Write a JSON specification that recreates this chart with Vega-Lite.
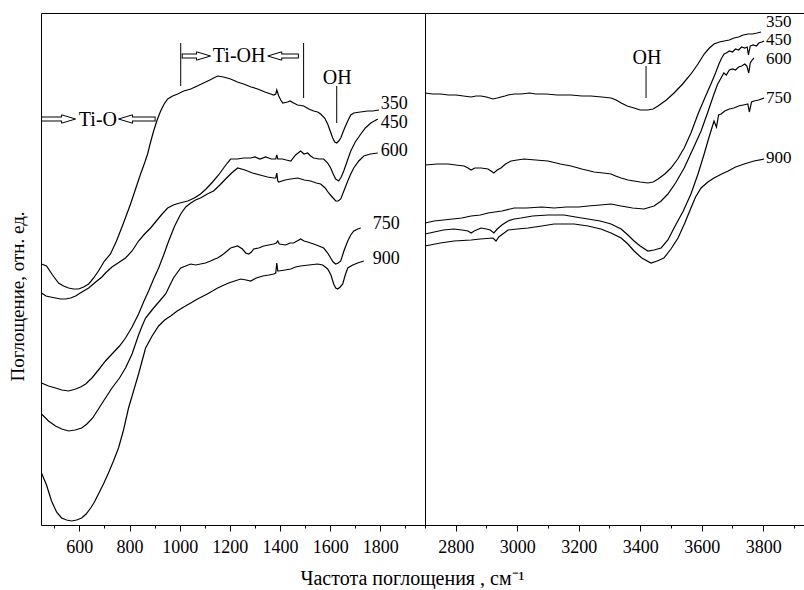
{
  "$schema": "https://vega.github.io/schema/vega-lite/v6.json",
  "background": "white",
  "padding": {"left": 7, "top": 12, "right": 0, "bottom": 0},
  "bounds": "flush",
  "spacing": 0,
  "config": {
    "font": "Liberation Serif",
    "view": {"stroke": "black", "strokeWidth": 1},
    "axis": {"grid": false, "domain": false, "tickColor": "black", "labelColor": "black", "titleColor": "black", "labelFont": "Liberation Serif", "titleFont": "Liberation Serif", "labelFontSize": 18, "titleFontSize": 19, "titleFontWeight": "normal"},
    "text": {"font": "Liberation Serif", "color": "black"}
  },
  "datasets": {
    "left": [
      {"s":"350","x":449,"y":261},{"s":"350","x":469,"y":259},{"s":"350","x":493,"y":250},{"s":"350","x":517,"y":242},{"s":"350","x":537,"y":239},{"s":"350","x":557,"y":237},{"s":"350","x":577,"y":236},{"s":"350","x":597,"y":236},{"s":"350","x":617,"y":238},{"s":"350","x":637,"y":241},{"s":"350","x":657,"y":247},{"s":"350","x":676,"y":254},{"s":"350","x":700,"y":264},{"s":"350","x":724,"y":271},{"s":"350","x":748,"y":284},{"s":"350","x":776,"y":302},{"s":"350","x":804,"y":321},{"s":"350","x":824,"y":336},{"s":"350","x":844,"y":351},{"s":"350","x":860,"y":362},{"s":"350","x":872,"y":371},{"s":"350","x":884,"y":383},{"s":"350","x":896,"y":394},{"s":"350","x":910,"y":405},{"s":"350","x":924,"y":414},{"s":"350","x":938,"y":421},{"s":"350","x":952,"y":426},{"s":"350","x":972,"y":429},{"s":"350","x":992,"y":431},{"s":"350","x":1016,"y":434},{"s":"350","x":1044,"y":436},{"s":"350","x":1070,"y":439},{"s":"350","x":1095,"y":442},{"s":"350","x":1120,"y":445},{"s":"350","x":1151,"y":449},{"s":"350","x":1175,"y":448},{"s":"350","x":1203,"y":446},{"s":"350","x":1230,"y":443},{"s":"350","x":1255,"y":441},{"s":"350","x":1285,"y":438},{"s":"350","x":1311,"y":436},{"s":"350","x":1340,"y":433},{"s":"350","x":1363,"y":431},{"s":"350","x":1375,"y":430},{"s":"350","x":1383,"y":431},{"s":"350","x":1387,"y":435},{"s":"350","x":1391,"y":432},{"s":"350","x":1395,"y":429},{"s":"350","x":1403,"y":425},{"s":"350","x":1411,"y":422},{"s":"350","x":1430,"y":423},{"s":"350","x":1440,"y":424},{"s":"350","x":1454,"y":422},{"s":"350","x":1470,"y":420},{"s":"350","x":1494,"y":419},{"s":"350","x":1515,"y":416},{"s":"350","x":1534,"y":414},{"s":"350","x":1550,"y":413},{"s":"350","x":1562,"y":411},{"s":"350","x":1578,"y":407},{"s":"350","x":1590,"y":401},{"s":"350","x":1600,"y":394},{"s":"350","x":1610,"y":387},{"s":"350","x":1618,"y":383},{"s":"350","x":1626,"y":382},{"s":"350","x":1634,"y":384},{"s":"350","x":1642,"y":387},{"s":"350","x":1656,"y":396},{"s":"350","x":1670,"y":404},{"s":"350","x":1682,"y":410},{"s":"350","x":1694,"y":412},{"s":"350","x":1720,"y":413},{"s":"350","x":1750,"y":414},{"s":"350","x":1770,"y":414},{"s":"350","x":1794,"y":415},
      {"s":"450","x":449,"y":232},{"s":"450","x":467,"y":229},{"s":"450","x":485,"y":228},{"s":"450","x":505,"y":227},{"s":"450","x":525,"y":226},{"s":"450","x":545,"y":226},{"s":"450","x":565,"y":227},{"s":"450","x":585,"y":229},{"s":"450","x":610,"y":233},{"s":"450","x":637,"y":237},{"s":"450","x":665,"y":243},{"s":"450","x":690,"y":248},{"s":"450","x":704,"y":252},{"s":"450","x":730,"y":258},{"s":"450","x":760,"y":263},{"s":"450","x":784,"y":267},{"s":"450","x":810,"y":274},{"s":"450","x":836,"y":284},{"s":"450","x":860,"y":291},{"s":"450","x":884,"y":297},{"s":"450","x":910,"y":305},{"s":"450","x":930,"y":311},{"s":"450","x":952,"y":317},{"s":"450","x":975,"y":320},{"s":"450","x":1000,"y":322},{"s":"450","x":1032,"y":324},{"s":"450","x":1058,"y":327},{"s":"450","x":1083,"y":331},{"s":"450","x":1105,"y":336},{"s":"450","x":1131,"y":343},{"s":"450","x":1155,"y":350},{"s":"450","x":1175,"y":357},{"s":"450","x":1190,"y":362},{"s":"450","x":1203,"y":366},{"s":"450","x":1230,"y":366},{"s":"450","x":1255,"y":367},{"s":"450","x":1283,"y":367},{"s":"450","x":1300,"y":368},{"s":"450","x":1320,"y":366},{"s":"450","x":1343,"y":368},{"s":"450","x":1365,"y":366},{"s":"450","x":1383,"y":366},{"s":"450","x":1387,"y":370},{"s":"450","x":1391,"y":366},{"s":"450","x":1410,"y":366},{"s":"450","x":1425,"y":365},{"s":"450","x":1443,"y":364},{"s":"450","x":1462,"y":370},{"s":"450","x":1482,"y":374},{"s":"450","x":1496,"y":371},{"s":"450","x":1510,"y":372},{"s":"450","x":1522,"y":369},{"s":"450","x":1534,"y":367},{"s":"450","x":1555,"y":366},{"s":"450","x":1574,"y":366},{"s":"450","x":1590,"y":362},{"s":"450","x":1602,"y":357},{"s":"450","x":1612,"y":351},{"s":"450","x":1622,"y":346},{"s":"450","x":1634,"y":344},{"s":"450","x":1644,"y":348},{"s":"450","x":1654,"y":354},{"s":"450","x":1668,"y":364},{"s":"450","x":1682,"y":374},{"s":"450","x":1700,"y":383},{"s":"450","x":1722,"y":391},{"s":"450","x":1740,"y":397},{"s":"450","x":1762,"y":402},{"s":"450","x":1790,"y":406},
      {"s":"600","x":449,"y":142},{"s":"600","x":477,"y":139},{"s":"600","x":505,"y":137},{"s":"600","x":530,"y":135},{"s":"600","x":557,"y":134},{"s":"600","x":585,"y":136},{"s":"600","x":605,"y":138},{"s":"600","x":625,"y":141},{"s":"600","x":650,"y":147},{"s":"600","x":676,"y":155},{"s":"600","x":704,"y":164},{"s":"600","x":730,"y":171},{"s":"600","x":760,"y":179},{"s":"600","x":784,"y":187},{"s":"600","x":810,"y":198},{"s":"600","x":836,"y":211},{"s":"600","x":856,"y":223},{"s":"600","x":876,"y":234},{"s":"600","x":896,"y":246},{"s":"600","x":916,"y":257},{"s":"600","x":936,"y":270},{"s":"600","x":956,"y":284},{"s":"600","x":980,"y":299},{"s":"600","x":1004,"y":311},{"s":"600","x":1024,"y":318},{"s":"600","x":1044,"y":322},{"s":"600","x":1063,"y":325},{"s":"600","x":1083,"y":327},{"s":"600","x":1110,"y":331},{"s":"600","x":1135,"y":334},{"s":"600","x":1160,"y":340},{"s":"600","x":1183,"y":346},{"s":"600","x":1207,"y":352},{"s":"600","x":1231,"y":357},{"s":"600","x":1260,"y":355},{"s":"600","x":1290,"y":352},{"s":"600","x":1320,"y":350},{"s":"600","x":1350,"y":348},{"s":"600","x":1375,"y":347},{"s":"600","x":1383,"y":347},{"s":"600","x":1387,"y":352},{"s":"600","x":1391,"y":344},{"s":"600","x":1395,"y":343},{"s":"600","x":1420,"y":345},{"s":"600","x":1443,"y":346},{"s":"600","x":1471,"y":347},{"s":"600","x":1497,"y":345},{"s":"600","x":1522,"y":344},{"s":"600","x":1545,"y":342},{"s":"600","x":1562,"y":341},{"s":"600","x":1580,"y":337},{"s":"600","x":1594,"y":332},{"s":"600","x":1608,"y":328},{"s":"600","x":1622,"y":324},{"s":"600","x":1632,"y":324},{"s":"600","x":1642,"y":326},{"s":"600","x":1656,"y":335},{"s":"600","x":1670,"y":344},{"s":"600","x":1682,"y":351},{"s":"600","x":1694,"y":357},{"s":"600","x":1714,"y":364},{"s":"600","x":1734,"y":369},{"s":"600","x":1760,"y":371},{"s":"600","x":1790,"y":372},
      {"s":"750","x":449,"y":111},{"s":"750","x":477,"y":104},{"s":"750","x":505,"y":99},{"s":"750","x":530,"y":96},{"s":"750","x":557,"y":94},{"s":"750","x":583,"y":95},{"s":"750","x":609,"y":97},{"s":"750","x":630,"y":101},{"s":"750","x":653,"y":107},{"s":"750","x":676,"y":116},{"s":"750","x":704,"y":127},{"s":"750","x":730,"y":137},{"s":"750","x":760,"y":147},{"s":"750","x":784,"y":157},{"s":"750","x":810,"y":171},{"s":"750","x":836,"y":190},{"s":"750","x":850,"y":199},{"s":"750","x":864,"y":207},{"s":"750","x":880,"y":212},{"s":"750","x":896,"y":217},{"s":"750","x":920,"y":224},{"s":"750","x":944,"y":231},{"s":"750","x":975,"y":247},{"s":"750","x":1004,"y":257},{"s":"750","x":1024,"y":259},{"s":"750","x":1044,"y":261},{"s":"750","x":1064,"y":260},{"s":"750","x":1083,"y":261},{"s":"750","x":1103,"y":262},{"s":"750","x":1123,"y":264},{"s":"750","x":1140,"y":266},{"s":"750","x":1151,"y":267},{"s":"750","x":1175,"y":271},{"s":"750","x":1203,"y":277},{"s":"750","x":1231,"y":279},{"s":"750","x":1250,"y":276},{"s":"750","x":1263,"y":272},{"s":"750","x":1275,"y":271},{"s":"750","x":1286,"y":273},{"s":"750","x":1295,"y":276},{"s":"750","x":1315,"y":277},{"s":"750","x":1335,"y":279},{"s":"750","x":1355,"y":280},{"s":"750","x":1375,"y":281},{"s":"750","x":1385,"y":282},{"s":"750","x":1391,"y":284},{"s":"750","x":1397,"y":281},{"s":"750","x":1423,"y":280},{"s":"750","x":1440,"y":282},{"s":"750","x":1454,"y":282},{"s":"750","x":1468,"y":284},{"s":"750","x":1482,"y":286},{"s":"750","x":1496,"y":284},{"s":"750","x":1510,"y":283},{"s":"750","x":1534,"y":281},{"s":"750","x":1555,"y":279},{"s":"750","x":1574,"y":277},{"s":"750","x":1590,"y":272},{"s":"750","x":1602,"y":267},{"s":"750","x":1612,"y":263},{"s":"750","x":1622,"y":261},{"s":"750","x":1632,"y":262},{"s":"750","x":1642,"y":264},{"s":"750","x":1656,"y":275},{"s":"750","x":1670,"y":284},{"s":"750","x":1682,"y":290},{"s":"750","x":1694,"y":294},{"s":"750","x":1710,"y":296},{"s":"750","x":1722,"y":297},
      {"s":"900","x":449,"y":52},{"s":"900","x":459,"y":46},{"s":"900","x":469,"y":40},{"s":"900","x":479,"y":32},{"s":"900","x":489,"y":24},{"s":"900","x":509,"y":13},{"s":"900","x":529,"y":7},{"s":"900","x":549,"y":5},{"s":"900","x":569,"y":4},{"s":"900","x":589,"y":5},{"s":"900","x":609,"y":7},{"s":"900","x":627,"y":11},{"s":"900","x":645,"y":17},{"s":"900","x":660,"y":23},{"s":"900","x":676,"y":31},{"s":"900","x":696,"y":41},{"s":"900","x":716,"y":52},{"s":"900","x":736,"y":64},{"s":"900","x":756,"y":77},{"s":"900","x":776,"y":95},{"s":"900","x":796,"y":117},{"s":"900","x":816,"y":134},{"s":"900","x":836,"y":151},{"s":"900","x":850,"y":164},{"s":"900","x":864,"y":177},{"s":"900","x":890,"y":189},{"s":"900","x":916,"y":199},{"s":"900","x":940,"y":205},{"s":"900","x":964,"y":209},{"s":"900","x":990,"y":214},{"s":"900","x":1016,"y":218},{"s":"900","x":1044,"y":222},{"s":"900","x":1071,"y":226},{"s":"900","x":1110,"y":231},{"s":"900","x":1151,"y":237},{"s":"900","x":1195,"y":242},{"s":"900","x":1243,"y":246},{"s":"900","x":1265,"y":245},{"s":"900","x":1283,"y":244},{"s":"900","x":1305,"y":247},{"s":"900","x":1331,"y":249},{"s":"900","x":1355,"y":250},{"s":"900","x":1375,"y":251},{"s":"900","x":1383,"y":252},{"s":"900","x":1387,"y":262},{"s":"900","x":1391,"y":254},{"s":"900","x":1395,"y":254},{"s":"900","x":1420,"y":255},{"s":"900","x":1443,"y":256},{"s":"900","x":1462,"y":258},{"s":"900","x":1482,"y":259},{"s":"900","x":1515,"y":260},{"s":"900","x":1550,"y":261},{"s":"900","x":1570,"y":260},{"s":"900","x":1590,"y":256},{"s":"900","x":1603,"y":250},{"s":"900","x":1614,"y":241},{"s":"900","x":1622,"y":237},{"s":"900","x":1630,"y":236},{"s":"900","x":1640,"y":238},{"s":"900","x":1650,"y":241},{"s":"900","x":1660,"y":250},{"s":"900","x":1670,"y":257},{"s":"900","x":1690,"y":260},{"s":"900","x":1710,"y":262},{"s":"900","x":1734,"y":264}
    ],
    "right": [
      {"s":"350","x":2700,"y":432},{"s":"350","x":2725,"y":431},{"s":"350","x":2752,"y":431},{"s":"350","x":2775,"y":430},{"s":"350","x":2801,"y":430},{"s":"350","x":2825,"y":429},{"s":"350","x":2850,"y":428},{"s":"350","x":2866,"y":429},{"s":"350","x":2882,"y":429},{"s":"350","x":2900,"y":428},{"s":"350","x":2921,"y":426},{"s":"350","x":2935,"y":427},{"s":"350","x":2947,"y":428},{"s":"350","x":2960,"y":429},{"s":"350","x":2970,"y":430},{"s":"350","x":2990,"y":431},{"s":"350","x":3012,"y":431},{"s":"350","x":3040,"y":432},{"s":"350","x":3060,"y":431},{"s":"350","x":3094,"y":431},{"s":"350","x":3130,"y":430},{"s":"350","x":3175,"y":430},{"s":"350","x":3210,"y":429},{"s":"350","x":3240,"y":429},{"s":"350","x":3275,"y":428},{"s":"350","x":3305,"y":427},{"s":"350","x":3322,"y":425},{"s":"350","x":3338,"y":422},{"s":"350","x":3358,"y":419},{"s":"350","x":3380,"y":417},{"s":"350","x":3400,"y":415},{"s":"350","x":3425,"y":415},{"s":"350","x":3442,"y":416},{"s":"350","x":3458,"y":419},{"s":"350","x":3485,"y":425},{"s":"350","x":3510,"y":432},{"s":"350","x":3538,"y":441},{"s":"350","x":3565,"y":451},{"s":"350","x":3588,"y":461},{"s":"350","x":3608,"y":471},{"s":"350","x":3625,"y":477},{"s":"350","x":3640,"y":481},{"s":"350","x":3657,"y":483},{"s":"350","x":3673,"y":484},{"s":"350","x":3690,"y":485},{"s":"350","x":3705,"y":487},{"s":"350","x":3720,"y":488},{"s":"350","x":3735,"y":490},{"s":"350","x":3751,"y":491},{"s":"350","x":3765,"y":491},{"s":"350","x":3780,"y":492},{"s":"350","x":3793,"y":493},
      {"s":"450","x":2700,"y":360},{"s":"450","x":2740,"y":361},{"s":"450","x":2775,"y":361},{"s":"450","x":2800,"y":360},{"s":"450","x":2827,"y":359},{"s":"450","x":2840,"y":357},{"s":"450","x":2850,"y":355},{"s":"450","x":2862,"y":357},{"s":"450","x":2882,"y":357},{"s":"450","x":2905,"y":356},{"s":"450","x":2915,"y":354},{"s":"450","x":2924,"y":352},{"s":"450","x":2935,"y":355},{"s":"450","x":2947,"y":357},{"s":"450","x":2962,"y":361},{"s":"450","x":2980,"y":364},{"s":"450","x":3000,"y":365},{"s":"450","x":3022,"y":366},{"s":"450","x":3060,"y":365},{"s":"450","x":3100,"y":364},{"s":"450","x":3140,"y":361},{"s":"450","x":3175,"y":359},{"s":"450","x":3210,"y":356},{"s":"450","x":3250,"y":353},{"s":"450","x":3280,"y":352},{"s":"450","x":3305,"y":351},{"s":"450","x":3320,"y":349},{"s":"450","x":3338,"y":347},{"s":"450","x":3360,"y":345},{"s":"450","x":3380,"y":344},{"s":"450","x":3400,"y":343},{"s":"450","x":3425,"y":342},{"s":"450","x":3442,"y":343},{"s":"450","x":3458,"y":346},{"s":"450","x":3480,"y":351},{"s":"450","x":3500,"y":357},{"s":"450","x":3522,"y":366},{"s":"450","x":3543,"y":377},{"s":"450","x":3565,"y":392},{"s":"450","x":3588,"y":411},{"s":"450","x":3610,"y":427},{"s":"450","x":3630,"y":441},{"s":"450","x":3645,"y":452},{"s":"450","x":3656,"y":461},{"s":"450","x":3665,"y":467},{"s":"450","x":3673,"y":471},{"s":"450","x":3680,"y":472},{"s":"450","x":3690,"y":474},{"s":"450","x":3700,"y":473},{"s":"450","x":3710,"y":476},{"s":"450","x":3720,"y":475},{"s":"450","x":3730,"y":478},{"s":"450","x":3740,"y":477},{"s":"450","x":3748,"y":478},{"s":"450","x":3752,"y":470},{"s":"450","x":3758,"y":479},{"s":"450","x":3768,"y":480},{"s":"450","x":3778,"y":479},{"s":"450","x":3786,"y":482},{"s":"450","x":3795,"y":483},{"s":"450","x":3803,"y":484},
      {"s":"600","x":2700,"y":302},{"s":"600","x":2730,"y":304},{"s":"600","x":2760,"y":305},{"s":"600","x":2790,"y":306},{"s":"600","x":2820,"y":307},{"s":"600","x":2850,"y":309},{"s":"600","x":2880,"y":310},{"s":"600","x":2905,"y":312},{"s":"600","x":2950,"y":314},{"s":"600","x":2990,"y":317},{"s":"600","x":3030,"y":317},{"s":"600","x":3080,"y":318},{"s":"600","x":3120,"y":317},{"s":"600","x":3160,"y":318},{"s":"600","x":3200,"y":318},{"s":"600","x":3230,"y":319},{"s":"600","x":3270,"y":320},{"s":"600","x":3305,"y":321},{"s":"600","x":3338,"y":319},{"s":"600","x":3375,"y":317},{"s":"600","x":3412,"y":316},{"s":"600","x":3445,"y":319},{"s":"600","x":3468,"y":324},{"s":"600","x":3490,"y":331},{"s":"600","x":3515,"y":342},{"s":"600","x":3543,"y":357},{"s":"600","x":3570,"y":375},{"s":"600","x":3598,"y":394},{"s":"600","x":3620,"y":413},{"s":"600","x":3640,"y":431},{"s":"600","x":3652,"y":441},{"s":"600","x":3663,"y":447},{"s":"600","x":3672,"y":452},{"s":"600","x":3680,"y":450},{"s":"600","x":3690,"y":455},{"s":"600","x":3700,"y":456},{"s":"600","x":3710,"y":455},{"s":"600","x":3720,"y":458},{"s":"600","x":3730,"y":459},{"s":"600","x":3740,"y":461},{"s":"600","x":3747,"y":459},{"s":"600","x":3753,"y":452},{"s":"600","x":3758,"y":462},{"s":"600","x":3764,"y":465},{"s":"600","x":3770,"y":467},
      {"s":"750","x":2700,"y":291},{"s":"750","x":2730,"y":293},{"s":"750","x":2760,"y":295},{"s":"750","x":2794,"y":296},{"s":"750","x":2820,"y":295},{"s":"750","x":2840,"y":294},{"s":"750","x":2850,"y":292},{"s":"750","x":2860,"y":294},{"s":"750","x":2882,"y":297},{"s":"750","x":2900,"y":296},{"s":"750","x":2912,"y":295},{"s":"750","x":2924,"y":292},{"s":"750","x":2935,"y":296},{"s":"750","x":2950,"y":300},{"s":"750","x":2970,"y":304},{"s":"750","x":2990,"y":306},{"s":"750","x":3012,"y":307},{"s":"750","x":3050,"y":309},{"s":"750","x":3100,"y":310},{"s":"750","x":3152,"y":310},{"s":"750","x":3190,"y":308},{"s":"750","x":3230,"y":306},{"s":"750","x":3270,"y":304},{"s":"750","x":3305,"y":301},{"s":"750","x":3338,"y":296},{"s":"750","x":3360,"y":290},{"s":"750","x":3380,"y":284},{"s":"750","x":3400,"y":279},{"s":"750","x":3425,"y":274},{"s":"750","x":3445,"y":275},{"s":"750","x":3468,"y":277},{"s":"750","x":3490,"y":285},{"s":"750","x":3510,"y":297},{"s":"750","x":3540,"y":314},{"s":"750","x":3565,"y":331},{"s":"750","x":3588,"y":351},{"s":"750","x":3608,"y":371},{"s":"750","x":3625,"y":389},{"s":"750","x":3640,"y":404},{"s":"750","x":3648,"y":398},{"s":"750","x":3655,"y":410},{"s":"750","x":3663,"y":411},{"s":"750","x":3675,"y":414},{"s":"750","x":3690,"y":416},{"s":"750","x":3705,"y":417},{"s":"750","x":3720,"y":419},{"s":"750","x":3735,"y":420},{"s":"750","x":3750,"y":421},{"s":"750","x":3755,"y":413},{"s":"750","x":3762,"y":423},{"s":"750","x":3770,"y":424},{"s":"750","x":3785,"y":425},{"s":"750","x":3803,"y":427},
      {"s":"900","x":2700,"y":279},{"s":"900","x":2750,"y":282},{"s":"900","x":2794,"y":284},{"s":"900","x":2850,"y":285},{"s":"900","x":2880,"y":286},{"s":"900","x":2921,"y":287},{"s":"900","x":2931,"y":284},{"s":"900","x":2940,"y":288},{"s":"900","x":2970,"y":295},{"s":"900","x":3000,"y":296},{"s":"900","x":3035,"y":297},{"s":"900","x":3080,"y":299},{"s":"900","x":3120,"y":301},{"s":"900","x":3150,"y":301},{"s":"900","x":3185,"y":301},{"s":"900","x":3230,"y":299},{"s":"900","x":3272,"y":296},{"s":"900","x":3305,"y":292},{"s":"900","x":3338,"y":287},{"s":"900","x":3360,"y":281},{"s":"900","x":3380,"y":274},{"s":"900","x":3405,"y":267},{"s":"900","x":3435,"y":262},{"s":"900","x":3455,"y":264},{"s":"900","x":3477,"y":267},{"s":"900","x":3500,"y":276},{"s":"900","x":3523,"y":287},{"s":"900","x":3545,"y":302},{"s":"900","x":3565,"y":317},{"s":"900","x":3580,"y":328},{"s":"900","x":3598,"y":337},{"s":"900","x":3620,"y":343},{"s":"900","x":3640,"y":347},{"s":"900","x":3665,"y":351},{"s":"900","x":3686,"y":354},{"s":"900","x":3710,"y":358},{"s":"900","x":3738,"y":361},{"s":"900","x":3770,"y":364},{"s":"900","x":3803,"y":366}
    ],
    "leftLabels": [
      {"t":"350","x":1802,"y":421},{"t":"450","x":1802,"y":402},{"t":"600","x":1802,"y":374},{"t":"750","x":1770,"y":301},{"t":"900","x":1770,"y":266}
    ],
    "rightLabels": [
      {"t":"350","x":3809,"y":503},{"t":"450","x":3809,"y":485},{"t":"600","x":3809,"y":466},{"t":"750","x":3809,"y":427},{"t":"900","x":3809,"y":367}
    ],
    "leftMarks": [
      {"x":1004,"y":439,"y2":482},{"x":1494,"y":427,"y2":482},{"x":1626,"y":402,"y2":439}
    ],
    "leftNotes": [
      {"t":"Ti-O","x":674,"y":405},{"t":"Ti-OH","x":1237,"y":469},{"t":"OH","x":1628,"y":447}
    ],
    "arrows": [
      {"x":447,"x2":531,"xw":451,"xw2":537,"hx":557,"y":406,"shape":"M -1 -0.6 L 1 0 L -1 0.6 Z"},
      {"x":810,"x2":904,"xw":804,"xw2":900,"hx":784,"y":406,"shape":"M 1 -0.6 L -1 0 L 1 0.6 Z"},
      {"x":1008,"x2":1069,"xw":1012,"xw2":1075,"hx":1095,"y":469,"shape":"M -1 -0.6 L 1 0 L -1 0.6 Z"},
      {"x":1405,"x2":1475,"xw":1399,"xw2":1471,"hx":1379,"y":469,"shape":"M 1 -0.6 L -1 0 L 1 0.6 Z"}
    ],
    "rightMarks": [{"x":3419,"y":427,"y2":459}],
    "rightNotes": [{"t":"OH","x":3422,"y":467}]
  },
  "hconcat": [
    {
      "width": 384,
      "height": 512,
      "resolve": {"axis": {"x": "independent"}},
      "layer": [
        {
          "data": {"name": "left"},
          "mark": {"type": "line", "color": "black", "strokeWidth": 1.2},
          "encoding": {
            "x": {"field": "x", "type": "quantitative", "scale": {"domain": [447, 1978], "nice": false, "zero": false},
              "axis": {"orient": "bottom", "values": [600,800,1000,1200,1400,1600,1800], "format": "d", "tickSize": 6,
                "labelPadding": 7, "labelFlush": false, "labelOverlap": false,
                "title": "Частота поглощения , см⁻¹", "titleFontSize": 20, "titleX": 371, "titleY": 59, "titleAlign": "center", "titleBaseline": "alphabetic"}},
            "y": {"field": "y", "type": "quantitative", "scale": {"domain": [0, 512], "nice": false, "zero": false},
              "axis": {"labels": false, "ticks": false, "domain": false, "title": "Поглощение, отн. ед.", "titleX": -14, "titleY": 283, "titleAlign": "center", "titleBaseline": "bottom", "titleAngle": 270}},
            "detail": {"field": "s", "type": "nominal"}
          }
        },
        {
          "data": {"name": "leftMarks"},
          "mark": {"type": "rule", "color": "black", "strokeWidth": 1},
          "encoding": {
            "x": {"field": "x", "type": "quantitative",
              "axis": {"orient": "bottom", "values": [500,700,900,1100,1300,1500,1700,1900], "tickSize": 3, "labels": false, "domain": false, "title": null}},
            "y": {"field": "y", "type": "quantitative"},
            "y2": {"field": "y2"}
          }
        },
        {
          "data": {"name": "arrows"},
          "mark": {"type": "rule", "color": "black", "strokeWidth": 5, "strokeCap": "butt"},
          "encoding": {
            "x": {"field": "x", "type": "quantitative", "axis": null},
            "x2": {"field": "x2"},
            "y": {"field": "y", "type": "quantitative"}
          }
        },
        {
          "data": {"name": "arrows"},
          "mark": {"type": "point", "filled": true, "fill": "white", "stroke": "black", "strokeWidth": 1, "size": 196, "opacity": 1},
          "encoding": {
            "x": {"field": "hx", "type": "quantitative", "axis": null},
            "y": {"field": "y", "type": "quantitative"},
            "shape": {"field": "shape", "type": "nominal", "scale": null}
          }
        },
        {
          "data": {"name": "arrows"},
          "mark": {"type": "rule", "color": "white", "strokeWidth": 3, "strokeCap": "butt"},
          "encoding": {
            "x": {"field": "xw", "type": "quantitative", "axis": null},
            "x2": {"field": "xw2"},
            "y": {"field": "y", "type": "quantitative"}
          }
        },
        {
          "data": {"name": "leftNotes"},
          "mark": {"type": "text", "fontSize": 20, "align": "center", "baseline": "middle", "color": "black"},
          "encoding": {
            "x": {"field": "x", "type": "quantitative", "axis": null},
            "y": {"field": "y", "type": "quantitative"},
            "text": {"field": "t"}
          }
        },
        {
          "data": {"name": "leftLabels"},
          "mark": {"type": "text", "fontSize": 18, "align": "left", "baseline": "middle", "color": "black"},
          "encoding": {
            "x": {"field": "x", "type": "quantitative", "axis": null},
            "y": {"field": "y", "type": "quantitative"},
            "text": {"field": "t"}
          }
        }
      ]
    },
    {
      "width": 380,
      "height": 512,
      "resolve": {"axis": {"x": "independent"}},
      "layer": [
        {
          "data": {"name": "right"},
          "mark": {"type": "line", "color": "black", "strokeWidth": 1.2},
          "encoding": {
            "x": {"field": "x", "type": "quantitative", "scale": {"domain": [2700, 3936], "nice": false, "zero": false},
              "axis": {"orient": "bottom", "values": [2800,3000,3200,3400,3600,3800], "format": "d", "tickSize": 6,
                "labelPadding": 7, "labelFlush": false, "labelOverlap": false, "title": null}},
            "y": {"field": "y", "type": "quantitative", "scale": {"domain": [0, 512], "nice": false, "zero": false}, "axis": null},
            "detail": {"field": "s", "type": "nominal"}
          }
        },
        {
          "data": {"name": "rightMarks"},
          "mark": {"type": "rule", "color": "black", "strokeWidth": 1},
          "encoding": {
            "x": {"field": "x", "type": "quantitative",
              "axis": {"orient": "bottom", "values": [2700,2900,3100,3300,3500,3700,3900], "tickSize": 3, "labels": false, "domain": false, "title": null}},
            "y": {"field": "y", "type": "quantitative", "axis": null},
            "y2": {"field": "y2"}
          }
        },
        {
          "data": {"name": "rightNotes"},
          "mark": {"type": "text", "fontSize": 20, "align": "center", "baseline": "middle", "color": "black"},
          "encoding": {
            "x": {"field": "x", "type": "quantitative", "axis": null},
            "y": {"field": "y", "type": "quantitative", "axis": null},
            "text": {"field": "t"}
          }
        },
        {
          "data": {"name": "rightLabels"},
          "mark": {"type": "text", "fontSize": 17, "align": "left", "baseline": "middle", "color": "black"},
          "encoding": {
            "x": {"field": "x", "type": "quantitative", "axis": null},
            "y": {"field": "y", "type": "quantitative", "axis": null},
            "text": {"field": "t"}
          }
        }
      ]
    }
  ]
}
